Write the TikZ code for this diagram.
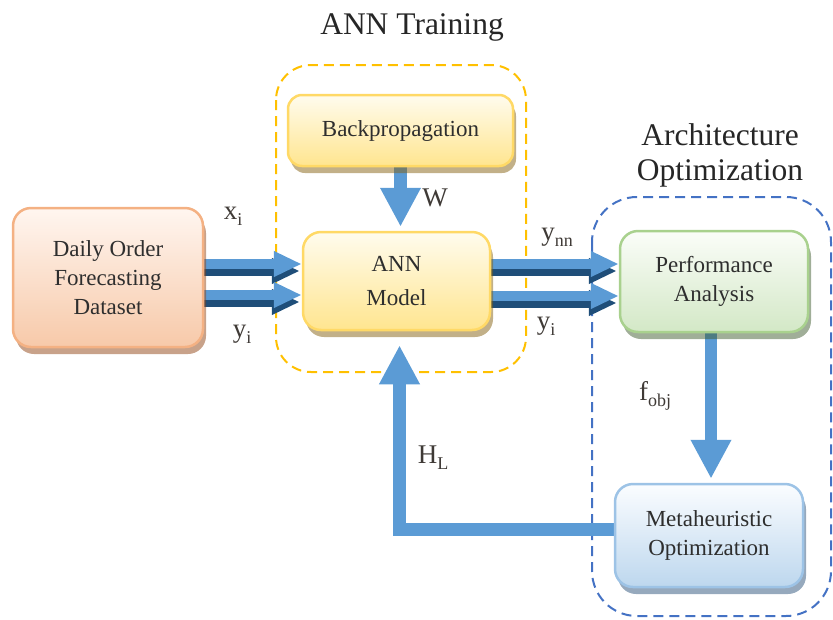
\documentclass[tikz,border=0pt]{standalone}
\usepackage{fontspec}
\setmainfont{Liberation Serif}
\usetikzlibrary{arrows.meta,shadows}
\definecolor{arrowblue}{HTML}{5B9BD5}
\definecolor{darkarrow}{HTML}{1F4E79}
\definecolor{textgray}{HTML}{2E2E2E}
\definecolor{labelgray}{HTML}{3F3A36}
\definecolor{orangedash}{HTML}{FFC000}
\definecolor{bluedash}{HTML}{4472C4}
\definecolor{dsborder}{HTML}{F4B183}
\definecolor{dstop}{HTML}{FFF6F0}
\definecolor{dsbot}{HTML}{F7C9A9}
\definecolor{dsshadow}{HTML}{914515}
\definecolor{ylborder}{HTML}{FFD966}
\definecolor{yltop}{HTML}{FFFCEE}
\definecolor{ylbot}{HTML}{FFE58F}
\definecolor{ylshadow}{HTML}{856111}
\definecolor{grborder}{HTML}{A9D18E}
\definecolor{grtop}{HTML}{FBFDF9}
\definecolor{grbot}{HTML}{D3E8C6}
\definecolor{grshadow}{HTML}{415D31}
\definecolor{blborder}{HTML}{9DC3E6}
\definecolor{bltop}{HTML}{FBFDFF}
\definecolor{blbot}{HTML}{BDD7EE}
\definecolor{blshadow}{HTML}{2D537B}
\newcommand{\sbs}[1]{\raisebox{-0.22em}{\fontsize{18}{18}\selectfont #1}}
\begin{document}
\begin{tikzpicture}[x=1pt,y=-1pt,
  box/.style={rounded corners=18pt, line width=2.5pt, align=center,
    font=\fontsize{23}{29}\selectfont, text=textgray, inner sep=0pt},
  shade/.style n args={4}{draw=#1, top color=#2, bottom color=#3,
    drop shadow={shadow xshift=3pt, shadow yshift=-7pt, fill=#4, opacity=.5}},
  titletext/.style={font=\fontsize{31.5}{35}\selectfont, text=black!85, align=center},
  lbl/.style={font=\fontsize{27}{30}\selectfont, text=labelgray, inner sep=0pt},
  bigarrow/.style={draw=arrowblue, line width=12.5pt, line join=miter,
    -{Triangle[width=38pt,length=39pt]}},
  flatlight/.style={draw=arrowblue, line width=10pt,
    -{Triangle[width=24pt,length=28pt]}},
  flatdark/.style={draw=darkarrow, line width=10pt,
    -{Triangle[width=24pt,length=28pt]}},
  dashframe/.style={line width=2pt, dash pattern=on 10pt off 6pt}
]
\useasboundingbox (0,0) rectangle (833,619);

% dashed group frames
\draw[dashframe, draw=orangedash, rounded corners=35pt] (276,65) rectangle (526,372);
\draw[dashframe, draw=bluedash, rounded corners=45pt] (592,197) rectangle (831,616);

% titles
\node[titletext] (t1) at (412,27) {ANN Training};
\node[titletext] (t2) at (720,155) {Architecture\\Optimization};

% box centres
\coordinate (dsc) at (108,277.5);
\coordinate (bpc) at (400.5,130.5);
\coordinate (annc) at (396.5,281);
\coordinate (pac) at (714,281.5);
\coordinate (moc) at (709,535.5);

% invisible placeholders for anchors
\node[box, minimum width=190pt, minimum height=139pt] (ds) at (dsc) {};
\node[box, minimum width=225pt, minimum height=71pt] (bp) at (bpc) {};
\node[box, minimum width=187pt, minimum height=98pt] (ann) at (annc) {};
\node[box, minimum width=188pt, minimum height=101pt] (pa) at (pac) {};
\node[box, minimum width=188pt, minimum height=103pt] (mo) at (moc) {};

% arrows
\draw[bigarrow, shorten >=4pt] (bp.south) -- (bp.south |- ann.north);
\coordinate (po) at ([xshift=-3pt]pa.south);
\draw[bigarrow, shorten >=4pt] (po) -- (po |- mo.north);
\coordinate (mw) at ([yshift=6pt]mo.west);
\draw[bigarrow, shorten >=14pt] (mw) -| ([xshift=3pt]ann.south);

\coordinate (l1d) at ([yshift=6.5pt]ds.east);
\coordinate (l1) at ([yshift=13.5pt]ds.east);
\coordinate (l2d) at ([yshift=-24.5pt]ds.east);
\coordinate (l2) at ([yshift=-17.5pt]ds.east);
\draw[flatdark, shorten >=2pt] (l1d) -- (l1d -| ann.west);
\draw[flatlight] (l1) -- (l1 -| ann.west);
\draw[flatdark, shorten >=2pt] (l2d) -- (l2d -| ann.west);
\draw[flatlight] (l2) -- (l2 -| ann.west);

\coordinate (r1d) at ([yshift=10pt]ann.east);
\coordinate (r1) at ([yshift=17pt]ann.east);
\coordinate (r2d) at ([yshift=-22pt]ann.east);
\coordinate (r2) at ([yshift=-15pt]ann.east);
\draw[flatdark, shorten >=2pt] (r1d) -- (r1d -| pa.west);
\draw[flatlight] (r1) -- (r1 -| pa.west);
\draw[flatdark, shorten >=2pt] (r2d) -- (r2d -| pa.west);
\draw[flatlight] (r2) -- (r2 -| pa.west);

% boxes
\node[box, shade={dsborder}{dstop}{dsbot}{dsshadow}, minimum width=190pt, minimum height=139pt]
  (dsb) at (dsc) {Daily Order\\Forecasting\\Dataset};
\node[box, rounded corners=14pt, shade={ylborder}{yltop}{ylbot}{ylshadow}, minimum width=225pt, minimum height=71pt]
  (bpb) at (bpc) {Backpropagation};
\node[box, shade={ylborder}{yltop}{ylbot}{ylshadow}, minimum width=187pt, minimum height=98pt]
  (annb) at (annc) {ANN\\[5pt]Model};
\node[box, shade={grborder}{grtop}{grbot}{grshadow}, minimum width=188pt, minimum height=101pt]
  (pab) at (pac) {Performance\\Analysis};
\node[box, shade={blborder}{bltop}{blbot}{blshadow}, minimum width=188pt, minimum height=103pt]
  (mob) at (moc) {Metaheuristic\\Optimization};

% labels
\node[lbl] (lx) at (233,216) {x\sbs{i}};
\node[lbl] (ly) at (242,334) {y\sbs{i}};
\node[lbl] (lynn) at (557,237) {y\sbs{nn}};
\node[lbl] (lyi) at (546,326) {y\sbs{i}};
\node[lbl] (lw) at (435,198) {W};
\node[lbl] (lf) at (655,396) {f\sbs{obj}};
\node[lbl] (lh) at (433,458) {H\sbs{L}};
\end{tikzpicture}
\end{document}
